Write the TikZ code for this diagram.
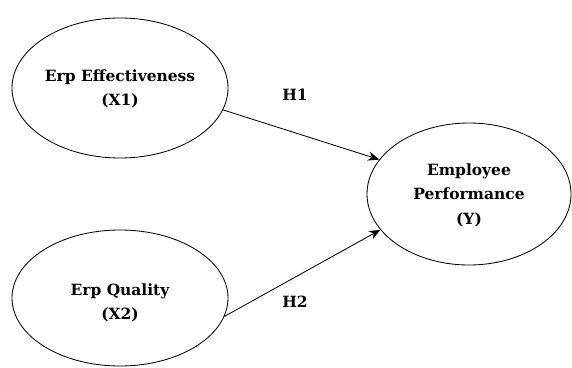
\documentclass[tikz,border=0pt]{standalone}
\usepackage{fontspec}
\setmainfont{DejaVu Serif}
\usetikzlibrary{arrows.meta,shapes}
\tikzset{
  var/.style={ellipse,draw,semithick,inner sep=0pt},
  vartext/.style={align=center,font=\bfseries\fontsize{11}{17.5}\selectfont},
  path/.style={semithick,-{Stealth[length=2.8mm,width=2.3mm]}}
}
\begin{document}
\begin{tikzpicture}[semithick]
\useasboundingbox(0,0)rectangle(14.3,9.175);
%variables
\node[var,minimum width=5.4cm,minimum height=3.5cm](x1)at(3,6.975){};
\node[var,minimum width=5.4cm,minimum height=3.4cm](x2)at(3,1.725){};
\node[var,minimum width=5.1cm,minimum height=3.55cm](y)at(11.725,4.325){};
\node[vartext](x1t)at(3,6.95){Erp Effectiveness\\(X1)};
\node[vartext](x2t)at(3,1.6){Erp Quality\\(X2)};
\node[vartext](yt)at(11.725,4.3){Employee\\Performance\\(Y)};
%hypotheses
\draw[path](x1.-12.6)--(y.159.5);
\draw[path](x2.-10.6)--(y.202);
\node[vartext](h1)at(7.375,6.8){H1};
\node[vartext](h2)at(7.375,1.625){H2};
\end{tikzpicture}
\end{document}
